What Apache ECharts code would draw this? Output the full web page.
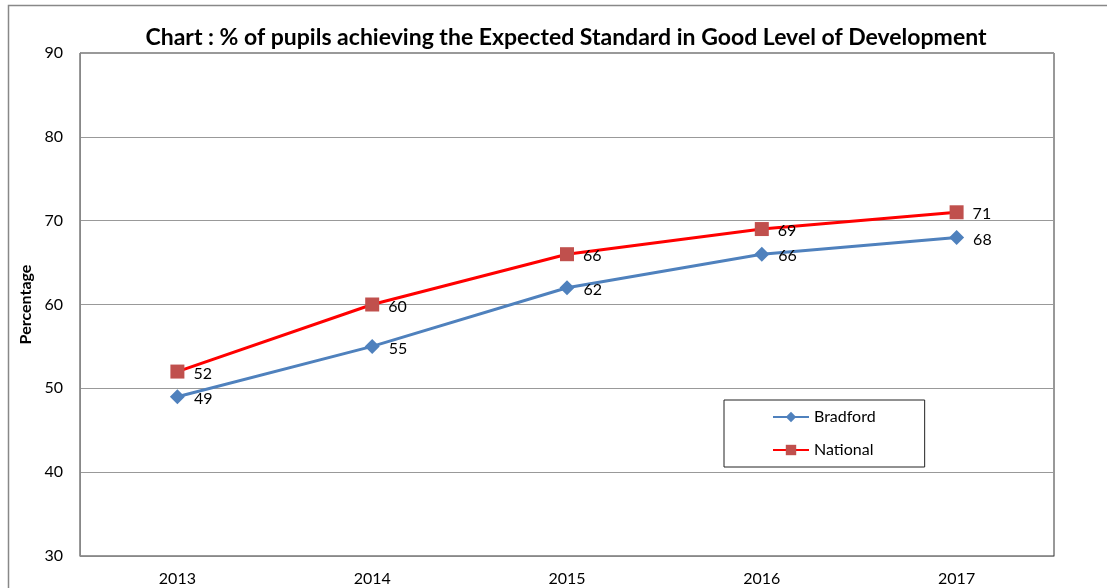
<!DOCTYPE html>
<html>
<head>
<meta charset="utf-8">
<script src="https://cdn.jsdelivr.net/npm/echarts@6/dist/echarts.min.js"></script>
<style>html,body{margin:0;padding:0;background:#fff;}#c{width:1107px;height:588px;}</style>
</head>
<body>
<div id="c"></div>
<script>
var years = ['2013', '2014', '2015', '2016', '2017'];
var bradford = [49, 55, 62, 66, 68];
var national = [52, 60, 66, 69, 71];
var titleText = 'Chart : % of pupils achieving the Expected Standard in Good Level of Development';
var yName = 'Percentage';

var FONT = 'Lato, "Open Sans", sans-serif';
var chart = echarts.init(document.getElementById('c'));
chart.setOption({
  backgroundColor: '#fff',
  animation: false,
  textStyle: { fontFamily: FONT },
  graphic: [{
    type: 'rect', silent: true, z: -1,
    shape: { x: 8.5, y: 5.5, width: 1200, height: 700 },
    style: { fill: 'none', stroke: '#888', lineWidth: 1.5 }
  }],
  title: {
    text: titleText,
    left: 561, top: 21, textAlign: 'center',
    textStyle: { fontFamily: FONT, fontSize: 23, fontWeight: 'bold', color: '#000' }
  },
  grid: {
    left: 80, top: 53, right: 53, bottom: 32,
    show: true, borderColor: '#333', borderWidth: 1, backgroundColor: 'transparent'
  },
  legend: {
    orient: 'vertical',
    left: 724, top: 400,
    itemWidth: 36, itemHeight: 13, itemGap: 17,
    padding: [9, 49, 9, 48],
    borderColor: '#222', borderWidth: 1, backgroundColor: '#fff',
    textStyle: { fontFamily: FONT, fontSize: 16, color: '#000' },
    data: ['Bradford', 'National']
  },
  xAxis: {
    type: 'category', data: years, boundaryGap: true,
    axisLine: { lineStyle: { color: '#888', width: 1 } },
    axisTick: { show: false },
    axisLabel: { color: '#000', fontSize: 16, margin: 15, fontFamily: FONT },
    splitLine: { show: false }
  },
  yAxis: {
    type: 'value', min: 30, max: 90, interval: 10,
    name: yName, nameLocation: 'middle', nameGap: 45, nameRotate: 90,
    nameTextStyle: { fontFamily: FONT, fontSize: 16, fontWeight: 'bold', color: '#000' },
    axisLine: { show: true, lineStyle: { color: '#888', width: 1 } },
    axisTick: { show: false },
    axisLabel: { color: '#000', fontSize: 16, margin: 17, fontFamily: FONT },
    splitLine: { show: true, lineStyle: { color: '#999', width: 1 } }
  },
  series: [{
    name: 'Bradford', type: 'line', data: bradford,
    symbol: 'diamond', symbolSize: 15,
    lineStyle: { color: '#4F81BD', width: 3 },
    itemStyle: { color: '#4F81BD' },
    label: { show: true, position: 'right', distance: 9, offset: [0, 2], color: '#000', fontSize: 16, fontFamily: FONT },
    z: 3
  }, {
    name: 'National', type: 'line', data: national,
    symbol: 'rect', symbolSize: 14,
    lineStyle: { color: '#FF0000', width: 3 },
    itemStyle: { color: '#C0504D' },
    label: { show: true, position: 'right', distance: 9, offset: [0, 2], color: '#000', fontSize: 16, fontFamily: FONT },
    z: 4
  }]
});
</script>
</body>
</html>
